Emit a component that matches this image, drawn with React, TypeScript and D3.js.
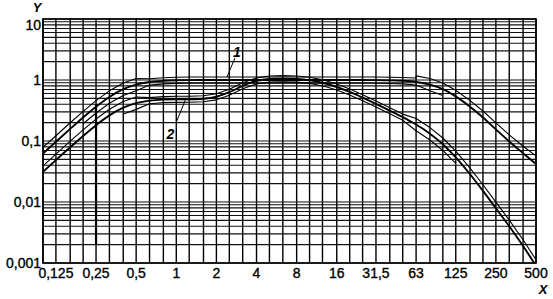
import React from "react";
import * as d3 from "d3";

const W = 553;
const H = 299;
const M = { left: 43, top: 19, right: 17, bottom: 36 };

// 1/3-octave band centre frequencies (grid + data abscissae)
const freqs = [0.1, 0.125, 0.16, 0.2, 0.25, 0.315, 0.4, 0.5, 0.63, 0.8, 1, 1.25, 1.6, 2, 2.5, 3.15, 4, 5, 6.3, 8, 10, 12.5, 16, 20, 25, 31.5, 40, 50, 63, 80, 100, 125, 160, 200, 250, 315, 400, 500];

// Curve 1 (nominal)
const curve1 = [0.062, 0.097, 0.158, 0.243, 0.364, 0.527, 0.707, 0.842, 0.927, 0.97, 0.988, 0.995, 0.998, 1.0, 1.0, 1.0, 1.0, 1.0, 1.0, 1.0, 1.0, 1.0, 1.0, 0.999, 0.998, 0.995, 0.987, 0.97, 0.929, 0.842, 0.707, 0.539, 0.364, 0.243, 0.155, 0.098, 0.063, 0.042];
// Curve 1 upper tolerance
const curve1UpperFreqs = [0.1, 0.125, 0.16, 0.2, 0.25, 0.315, 0.4, 0.5, 0.63, 0.8, 1, 1.25, 1.6, 2, 2.5, 3.15, 4, 5, 6.3, 8, 10, 12.5, 16, 20, 25, 31.5, 40, 50, 63, 63, 80, 100, 125, 160, 200, 250, 315, 400, 500];
const curve1Upper = [0.079, 0.122, 0.199, 0.306, 0.459, 0.664, 0.891, 1.061, 1.05, 1.09, 1.11, 1.12, 1.12, 1.12, 1.12, 1.12, 1.12, 1.12, 1.12, 1.12, 1.12, 1.12, 1.12, 1.12, 1.12, 1.12, 1.11, 1.1, 1.08, 1.17, 1.06, 0.89, 0.68, 0.46, 0.31, 0.198, 0.126, 0.082, 0.057];
// Curve 1 lower tolerance
const curve1LowerFreqs = [0.2, 0.25, 0.315, 0.4, 0.5, 0.63, 0.8, 1, 1.25, 1.6, 2, 2.5, 3.15, 4, 5, 6.3, 8, 10, 12.5, 16, 20, 25, 31.5, 40, 50, 63, 80, 100];
const curve1Lower = [0.192, 0.288, 0.416, 0.559, 0.665, 0.825, 0.863, 0.88, 0.89, 0.89, 0.89, 0.89, 0.89, 0.89, 0.89, 0.89, 0.89, 0.89, 0.89, 0.89, 0.89, 0.89, 0.885, 0.878, 0.863, 0.827, 0.665, 0.559];

// Curve 2 (nominal)
const curve2 = [0.0312, 0.0486, 0.079, 0.121, 0.182, 0.263, 0.352, 0.418, 0.459, 0.477, 0.482, 0.484, 0.494, 0.531, 0.631, 0.804, 0.967, 1.039, 1.054, 1.036, 0.988, 0.902, 0.768, 0.636, 0.513, 0.405, 0.314, 0.246, 0.186, 0.132, 0.0887, 0.054, 0.0285, 0.0152, 0.0079, 0.004, 0.0019, 0.0009];
// Curve 2 upper tolerance
const curve2Upper = [0.039, 0.061, 0.0995, 0.152, 0.229, 0.331, 0.444, 0.527, 0.514, 0.534, 0.54, 0.542, 0.553, 0.595, 0.707, 0.9, 1.083, 1.164, 1.18, 1.16, 1.107, 1.01, 0.86, 0.712, 0.575, 0.454, 0.352, 0.276, 0.234, 0.166, 0.112, 0.068, 0.0359, 0.0192, 0.00995, 0.00504, 0.0024, 0.00113];
// Curve 2 lower tolerance
const curve2LowerFreqs = [0.4, 0.5, 0.63, 0.8, 1, 1.25, 1.6, 2, 2.5, 3.15, 4, 5, 6.3, 8, 10, 12.5, 16, 20, 25, 31.5, 40, 50, 63, 80, 100, 125];
const curve2Lower = [0.278, 0.33, 0.409, 0.425, 0.429, 0.431, 0.44, 0.473, 0.562, 0.716, 0.861, 0.925, 0.938, 0.922, 0.879, 0.803, 0.684, 0.566, 0.457, 0.36, 0.279, 0.219, 0.147, 0.104, 0.07, 0.043];

const xTickValues = [0.125, 0.25, 0.5, 1, 2, 4, 8, 16, 31.5, 63, 125, 250, 500];
const xTickLabels = ["0,125", "0,25", "0,5", "1", "2", "4", "8", "16", "31,5", "63", "125", "250", "500"];
const yTickValues = [10, 1, 0.1, 0.01, 0.001];
const yTickLabels = ["10", "1", "0,1", "0,01", "0,001"];

// Curve identifiers: [label, frequency, value pointed at]
const curveLabels = ["1", "2"];
const labelFreqs = [2.4, 1.17];
const labelValues = [1.12, 0.47];

const FONT = "'Liberation Sans', Arial, Helvetica, sans-serif";

export default function App() {
  const x0 = M.left;
  const x1 = W - M.right;
  const y0 = H - M.bottom;
  const y1 = M.top;

  const x = d3.scaleLog().domain([0.1, 500]).range([x0, x1]);
  const y = d3.scaleLog().domain([0.001, 10]).range([y0, y1]);

  const yGrid: number[] = [];
  for (let d = -3; d <= 0; d++) {
    for (let k = 1; k <= 9; k++) yGrid.push(k * Math.pow(10, d));
  }
  yGrid.push(10);

  const nominalLine = d3
    .line<[number, number]>()
    .x((d) => x(d[0]))
    .y((d) => y(d[1]))
    .curve(d3.curveMonotoneX);
  const tolLine = d3
    .line<[number, number]>()
    .x((d) => x(d[0]))
    .y((d) => y(d[1]))
    .curve(d3.curveLinear);

  const zip = (fs: number[], vs: number[]) => fs.map((f, i) => [f, vs[i]] as [number, number]);

  const nominals = [zip(freqs, curve1), zip(freqs, curve2)];
  const tolerances = [
    zip(curve1UpperFreqs, curve1Upper),
    zip(curve1LowerFreqs, curve1Lower),
    zip(freqs, curve2Upper),
    zip(curve2LowerFreqs, curve2Lower),
  ];

  const labelOffsets = [
    { lx: 8, ly: -19, tx: 10, ty: -25 },
    { lx: -9, ly: 22, tx: -15, ty: 34 },
  ];

  const textStroke = { stroke: "#000", strokeWidth: 0.35 };

  return (
    <svg
      width={W}
      height={H}
      style={{ position: "absolute", left: 0, top: 0, background: "#fff" }}
      fontFamily={FONT}
    >
      <defs>
        <clipPath id="plot">
          <rect x={x0} y={y1} width={x1 - x0} height={y0 - y1} />
        </clipPath>
      </defs>
      <rect x={0} y={0} width={W} height={H} fill="#fff" />

      {/* grid */}
      <g>
        {freqs.map((f, i) => (
          <line key={"v" + i} x1={x(f)} x2={x(f)} y1={y1} y2={y0} stroke="#000" strokeWidth={1.4} />
        ))}
        {yGrid.map((v, i) => (
          <line key={"h" + i} x1={x0} x2={x1} y1={y(v)} y2={y(v)} stroke="#111" strokeWidth={1.1} />
        ))}
        <line x1={x(0.25)} x2={x(0.25)} y1={y(0.4)} y2={y(0.002)} stroke="#000" strokeWidth={2.2} />
        <rect x={x0} y={y1} width={x1 - x0} height={y0 - y1} fill="none" stroke="#000" strokeWidth={1.6} />
      </g>

      {/* curves */}
      <g clipPath="url(#plot)" fill="none" stroke="#000" strokeLinejoin="round">
        {tolerances.map((d, i) => (
          <path key={"t" + i} d={tolLine(d) || ""} strokeWidth={1.1} />
        ))}
        {nominals.map((d, i) => (
          <path key={"n" + i} d={nominalLine(d) || ""} strokeWidth={1.9} />
        ))}
      </g>

      {/* curve labels */}
      {curveLabels.map((t, i) => {
        const px = x(labelFreqs[i]);
        const py = y(labelValues[i]);
        const o = labelOffsets[i];
        return (
          <g key={"cl" + i}>
            <line x1={px} y1={py} x2={px + o.lx} y2={py + o.ly} stroke="#000" strokeWidth={1} />
            <text
              x={px + o.tx}
              y={py + o.ty}
              dy="0.35em"
              textAnchor="middle"
              fontSize={14}
              fontStyle="italic"
              fontWeight="bold"
            >
              {t}
            </text>
          </g>
        );
      })}

      {/* y tick labels */}
      {yTickValues.map((v, i) => (
        <text
          key={"yl" + i}
          x={x0 - 2}
          y={y(v) + (i === 0 ? 6 : 0)}
          dy="0.35em"
          textAnchor="end"
          fontSize={14}
          {...textStroke}
        >
          {yTickLabels[i]}
        </text>
      ))}

      {/* x tick labels */}
      {xTickValues.map((v, i) => (
        <text key={"xl" + i} x={x(v)} y={y0 + 15} textAnchor="middle" fontSize={14} {...textStroke}>
          {xTickLabels[i]}
        </text>
      ))}

      {/* axis titles */}
      <text x={37} y={12} textAnchor="middle" fontSize={13} fontStyle="italic" fontWeight="bold">
        Y
      </text>
      <text x={543} y={293.5} textAnchor="middle" fontSize={13} fontStyle="italic" fontWeight="bold">
        X
      </text>
    </svg>
  );
}
